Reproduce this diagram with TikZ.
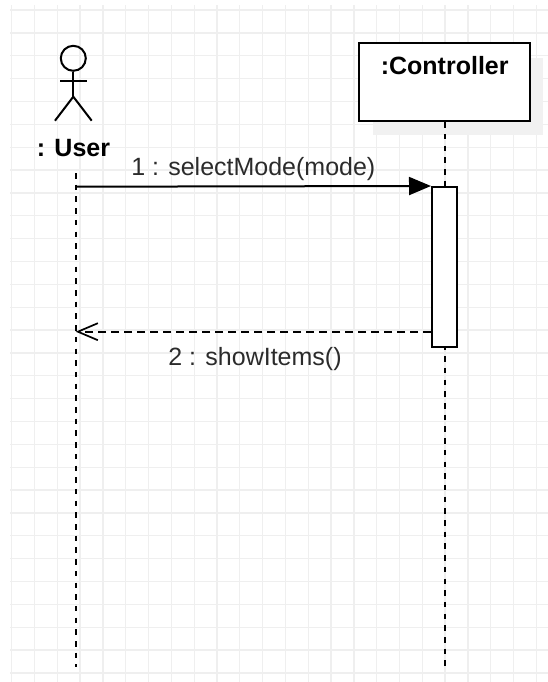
\documentclass[tikz,border=0pt]{standalone}
\usepackage{fontspec}
\setmainfont{Liberation Sans}
\usetikzlibrary{calc}
\usetikzlibrary{arrows.meta}
\definecolor{gridgray}{HTML}{EFEFEF}
\definecolor{shadowgray}{HTML}{F1F1F1}
\definecolor{textgray}{HTML}{2B2B2B}
\tikzset{
  gridline/.style= {draw=gridgray, line width=1.3pt},
  figure/.style= {draw, line width=2pt},
  actorhead/.style= {draw, circle, line width=2pt, minimum size=25pt, inner sep=0pt},
  lifeline/.style= {draw, line width=2pt, dash pattern=on 5.5pt off 6.2pt},
  objbox/.style= {draw, fill=white, line width=2pt, minimum width=171pt, minimum height=78pt, inner sep=0pt},
  actbox/.style= {draw, fill=white, line width=2pt, minimum width=25pt, minimum height=160pt, inner sep=0pt},
  msg/.style= {line width=2pt, -{Triangle[length=22pt, width=18pt]}},
  reply/.style= {line width=1.7pt, dash pattern=on 8pt off 5pt, -{Straight Barb[length=20pt, width=17pt]}},
  msglabel/.style= {anchor=base, inner sep=0pt, text=textgray, font=\fontsize{25}{30}\selectfont},
  objlabel/.style= {anchor=base, inner sep=0pt, font=\fontsize{25}{30}\selectfont\bfseries},
}

\begin{document}
\begin{tikzpicture}[x=1pt, y=-1pt]
  \useasboundingbox (0,0) rectangle (548,682);
  % grid
  \foreach \i in {0,...,23}
    \draw [gridline] ({11.7+22.81*\i},5) -- ({11.7+22.81*\i},682);
  \foreach \j in {0,...,29}
    \draw [gridline] (10,{10+22.86*\j}) -- (548,{10+22.86*\j});

  % actor
  \node [actorhead] (head) at (73.3,58.3) {};
  \draw [figure] (head.south) -- (73.3,96.7) coordinate (hip);
  \draw [figure] (60,80.7) -- (86.7,80.7);
  \draw [figure] (55,120.7) -- (hip) -- (91.7,120.7);
  \node [objlabel] (userlbl) at (73.5,156) {: User};

  % controller
  \fill [shadowgray] (373,58) rectangle (543,135);
  \node [objbox] (ctrl) at (444.7,82.2) {};
  \node [objlabel] (ctrllbl) at (444.7,75) {:Controller};

  % lifelines
  \coordinate (usertop) at (75.7,173);
  \coordinate (userbot) at (75.7,667);
  \coordinate (ctrlbot) at (ctrl.south |- userbot);
  \draw [lifeline] (usertop) -- (userbot);
  \draw [lifeline] (ctrl.south) -- (ctrlbot);

  \node [actbox] (act) at (444.5,267) {};

  % messages
  \coordinate (m1) at (75.7,186.7);
  \coordinate (m2) at (75.7,331.7);
  \draw [msg] (m1) -- (act.north west);
  \draw [reply] (act.west |- m2) -- (m2);
  \node [msglabel] (m1lbl) at (253.3,175) {1 : selectMode(mode)};
  \node [msglabel] (m2lbl) at (255,365) {2 : showItems()};
\end{tikzpicture}
\end{document}
